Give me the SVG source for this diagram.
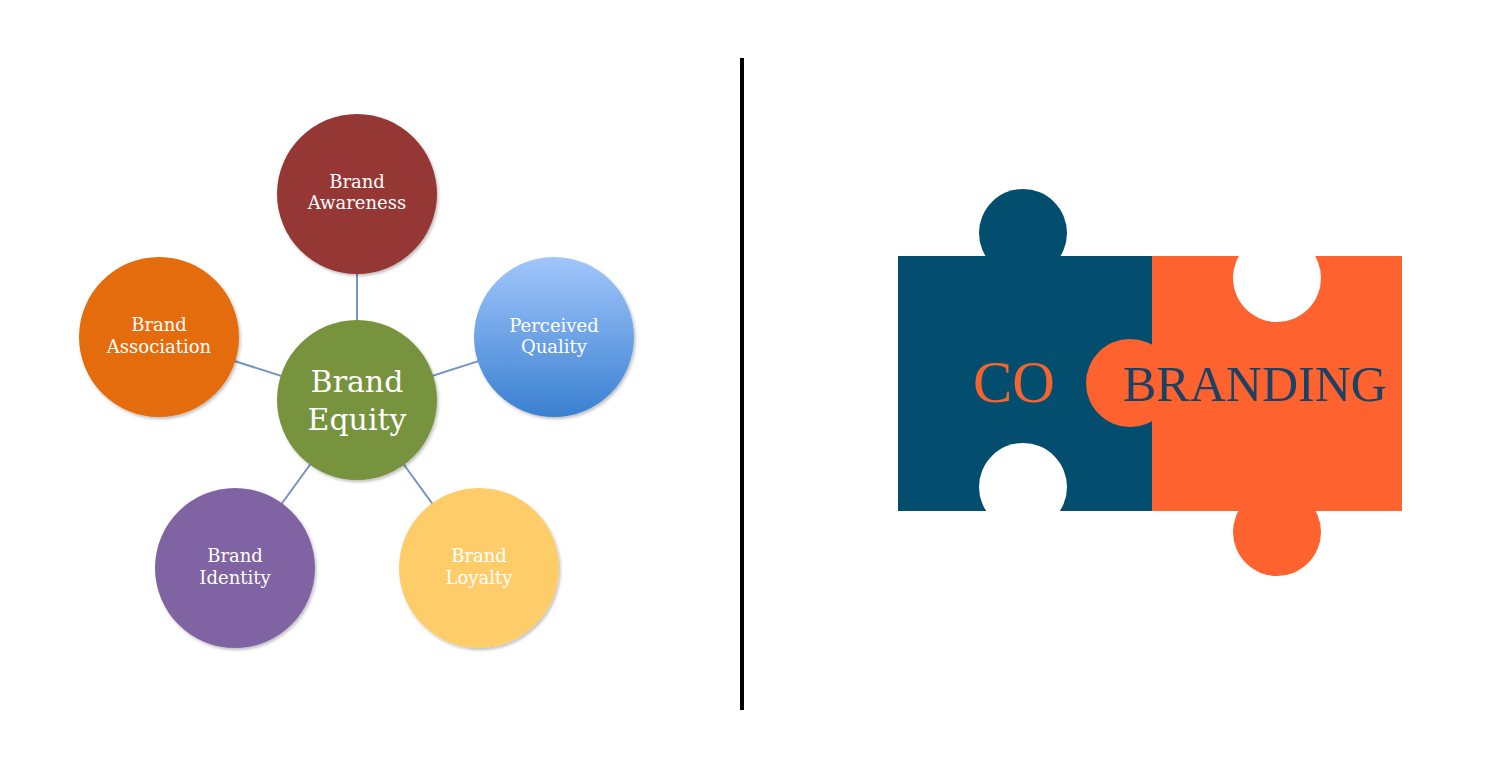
<svg xmlns="http://www.w3.org/2000/svg" width="1500" height="768" viewBox="0 0 1500 768">
<defs>
<linearGradient id="gBlue" x1="0" y1="0" x2="0" y2="1">
<stop offset="0" stop-color="#a1c6fb"/>
<stop offset="1" stop-color="#3a80d2"/>
</linearGradient>
<filter id="sh" x="-20%" y="-20%" width="140%" height="140%">
<feDropShadow dx="1.5" dy="2" stdDeviation="1.5" flood-color="#000" flood-opacity="0.25"/>
</filter>
</defs>
<style>
.c{filter:url(#sh)}
.t{font-family:"DejaVu Serif","Liberation Serif",serif;font-size:18px;fill:#ffffff;text-anchor:middle}
.tb{font-family:"DejaVu Serif","Liberation Serif",serif;font-size:30px;fill:#ffffff;text-anchor:middle}
.con{stroke:#7396c6;stroke-width:2;fill:none}
.pz{font-family:"Liberation Serif","Times New Roman",serif}
</style>
<rect width="1500" height="768" fill="#ffffff"/>
<g id="connectors">
<line class="con" x1="357" y1="400" x2="357" y2="194"/>
<line class="con" x1="357" y1="400" x2="554" y2="337"/>
<line class="con" x1="357" y1="400" x2="159" y2="337"/>
<line class="con" x1="357" y1="400" x2="235" y2="568"/>
<line class="con" x1="357" y1="400" x2="479" y2="568"/>
</g>
<g id="brand-awareness">
<circle class="c" cx="357" cy="194" r="80" fill="#953735"/>
<text class="t" x="357" y="188">Brand</text>
<text class="t" x="357" y="209">Awareness</text>
</g>
<g id="perceived-quality">
<circle class="c" cx="554" cy="337" r="80" fill="url(#gBlue)"/>
<text class="t" x="554" y="332">Perceived</text>
<text class="t" x="554" y="353">Quality</text>
</g>
<g id="brand-association">
<circle class="c" cx="159" cy="337" r="80" fill="#e46c0a"/>
<text class="t" x="159" y="331">Brand</text>
<text class="t" x="159" y="353">Association</text>
</g>
<g id="brand-identity">
<circle class="c" cx="235" cy="568" r="80" fill="#8064a2"/>
<text class="t" x="235" y="562">Brand</text>
<text class="t" x="235" y="584">Identity</text>
</g>
<g id="brand-loyalty">
<circle class="c" cx="479" cy="568" r="80" fill="#fecd6a"/>
<text class="t" x="479" y="562">Brand</text>
<text class="t" x="479" y="584">Loyalty</text>
</g>
<g id="brand-equity">
<circle class="c" cx="357" cy="400" r="80" fill="#77933c"/>
<text class="tb" x="357" y="392">Brand</text>
<text class="tb" x="357" y="430">Equity</text>
</g>
<g id="divider">
<line x1="742" y1="58" x2="742" y2="710" stroke="#000000" stroke-width="4"/>
</g>
<g id="co-branding">
<rect x="898" y="256" width="254" height="255" fill="#034e6f"/>
<circle cx="1023" cy="233" r="44" fill="#034e6f"/>
<rect x="1152" y="256" width="250" height="255" fill="#fe632f"/>
<circle cx="1277" cy="532" r="44" fill="#fe632f"/>
<circle cx="1130" cy="383" r="44" fill="#fe632f"/>
<circle cx="1277" cy="278" r="44" fill="#ffffff"/>
<circle cx="1023" cy="487" r="44" fill="#ffffff"/>
<text class="pz" x="973" y="402" font-size="59" fill="#f4642f">CO</text>
<text class="pz" x="1123" y="401" font-size="50" fill="#1c4163">BRANDING</text>
</g>
</svg>
